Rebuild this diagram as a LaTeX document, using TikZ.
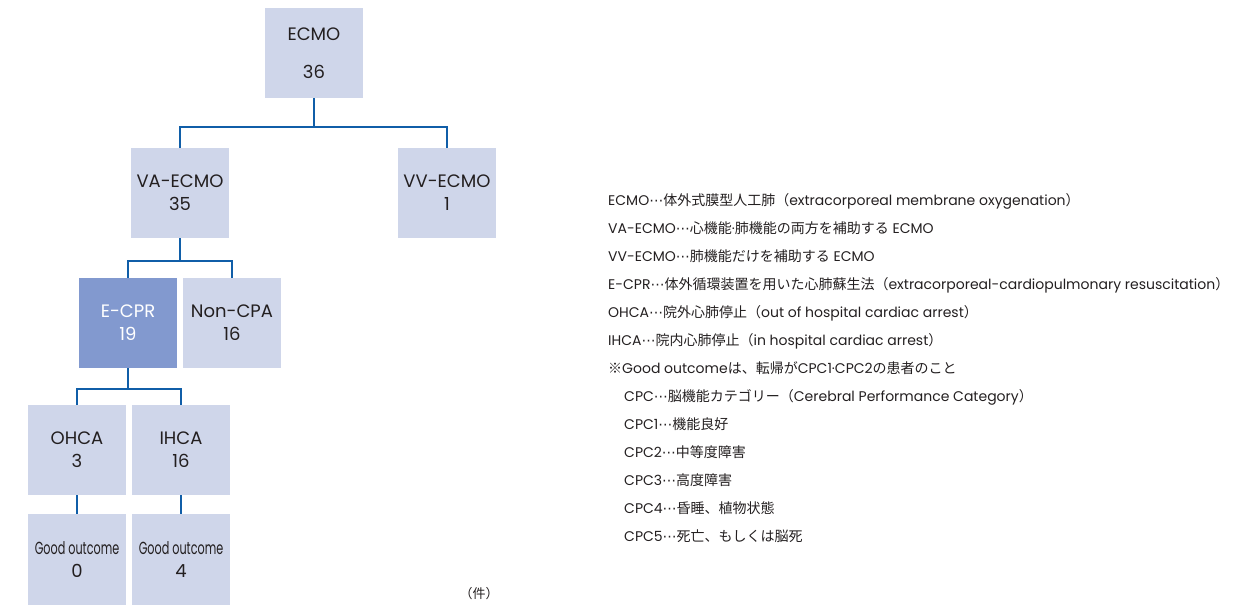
\documentclass[tikz,border=0pt]{standalone}
\usepackage{fontspec}
\setmainfont{Poppins}
\newfontfamily\jpf{Noto Sans CJK JP}
\newfontfamily\dvf{DejaVu Sans}
\newcommand{\jp}[1]{{\jpf #1}}
\newcommand{\mydots}{{\dvf ⋯}}
\newcommand{\goodout}{\scalebox{0.64}[1]{\fontsize{17.5}{20}\selectfont Good outcome}}
\definecolor{boxc}{RGB}{207,214,234}
\definecolor{darkc}{RGB}{130,153,207}
\definecolor{linec}{RGB}{16,94,168}
\definecolor{textc}{RGB}{35,31,32}
\tikzset{
  box/.style={fill=boxc, draw=none, minimum width=98pt, minimum height=90pt,
    inner sep=0pt, align=center, text=textc, font=\fontsize{18}{23}\selectfont},
  boxdark/.style={box, fill=darkc, text=white},
  link/.style={draw=linec, line width=2pt},
  legend/.style={anchor=base west, inner sep=0pt, text=textc, font=\fontsize{14}{16}\selectfont},
}
\begin{document}
\begin{tikzpicture}[x=1pt,y=-1pt]
\useasboundingbox (0,0) rectangle (1234,605);
% boxes
\node[box] (ecmo) at (314,53) {ECMO\\[15pt]36};
\node[box] (va) at (180,193) {VA-ECMO\\35};
\node[box] (vv) at (447,193) {VV-ECMO\\1};
\node[boxdark] (ecpr) at (128,323) {E-CPR\\19};
\node[box] (noncpa) at (232,323) {Non-CPA\\16};
\node[box] (ohca) at (77,450) {OHCA\\3};
\node[box] (ihca) at (181,450) {IHCA\\16};
\node[box, minimum height=91pt] (go0) at (77,559.5) {\goodout\\0};
\node[box, minimum height=91pt] (go4) at (181,559.5) {\goodout\\4};
% connectors
\draw[link] (ecmo.south) -- ++(0,29) -| (va.north);
\draw[link] (ecmo.south) -- ++(0,29) -| (vv.north);
\draw[link] (va.south) -- ++(0,23) -| (ecpr.north);
\draw[link] (va.south) -- ++(0,23) -| (noncpa.north);
\draw[link] (ecpr.south) -- ++(0,21) -| (ohca.north);
\draw[link] (ecpr.south) -- ++(0,21) -| (ihca.north);
\draw[link] (ohca.south) -- (go0.north);
\draw[link] (ihca.south) -- (go4.north);
% unit
\node[text=textc, font=\fontsize{13}{15}\selectfont\jpf, inner sep=0pt] (unit) at (479,594) {（件）};
% legend
\node[legend] (l1) at (608,205) {ECMO\mydots\jp{体外式膜型人工肺（}extracorporeal membrane oxygenation\jp{）}};
\node[legend] (l2) at (608,233) {VA-ECMO\mydots\jp{心機能}·\jp{肺機能の両方を補助する} ECMO};
\node[legend] (l3) at (608,261) {VV-ECMO\mydots\jp{肺機能だけを補助する} ECMO};
\node[legend] (l4) at (608,289) {E-CPR\mydots\jp{体外循環装置を用いた心肺蘇生法（}extracorporeal-cardiopulmonary resuscitation\jp{）}};
\node[legend] (l5) at (608,317) {OHCA\mydots\jp{院外心肺停止（}out of hospital cardiac arrest\jp{）}};
\node[legend] (l6) at (608,345) {IHCA\mydots\jp{院内心肺停止（}in hospital cardiac arrest\jp{）}};
\node[legend] (l7) at (608,373) {\jp{※}Good outcome\jp{は、転帰が}CPC1·CPC2\jp{の患者のこと}};
\node[legend] (l8) at (624,401) {CPC\mydots\jp{脳機能カテゴリー（}Cerebral Performance Category\jp{）}};
\node[legend] (l9) at (624,429) {CPC1\mydots\jp{機能良好}};
\node[legend] (l10) at (624,457) {CPC2\mydots\jp{中等度障害}};
\node[legend] (l11) at (624,485) {CPC3\mydots\jp{高度障害}};
\node[legend] (l12) at (624,513) {CPC4\mydots\jp{昏睡、植物状態}};
\node[legend] (l13) at (624,541) {CPC5\mydots\jp{死亡、もしくは脳死}};
\end{tikzpicture}
\end{document}
